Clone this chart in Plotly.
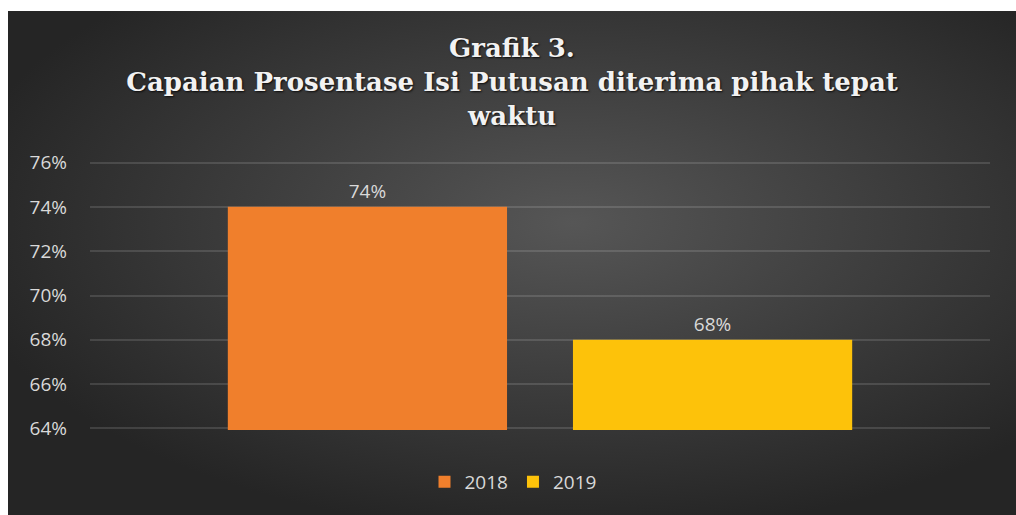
import plotly.graph_objects as go
import base64

# ---- data ----
category = [""]
years = ["2018", "2019"]
values = [0.74, 0.68]
colors = ["#F07F2C", "#FDC20A"]
tick_vals = [0.64, 0.66, 0.68, 0.70, 0.72, 0.74, 0.76]
title_lines = ["Grafik 3.", "Capaian Prosentase Isi Putusan diterima pihak tepat", "waktu"]

W, H = 1016, 515
L, R, T, B = 90, 26, 161, 85  # margins
pw, ph = W - L - R, H - T - B

fig = go.Figure()
for yr, v, c in zip(years, values, colors):
    fig.add_trace(go.Bar(
        x=category, y=[v], name=yr,
        marker=dict(color=c, line=dict(width=0)),
        text=[f"{round(v*100)}%"], textposition="outside",
        textfont=dict(family="Open Sans", size=19, color="#D9D9D9"),
        cliponaxis=True,
    ))

# background gradient (radial, dark), starting 8px from left, 11px from top
svg = '''<svg xmlns="http://www.w3.org/2000/svg" width="1008" height="504" viewBox="0 0 1008 504" preserveAspectRatio="none">
<defs><radialGradient id="g" cx="0.56" cy="0.42" r="0.62" gradientUnits="objectBoundingBox">
<stop offset="0" stop-color="#565656"/><stop offset="1" stop-color="#252525"/></radialGradient></defs>
<rect width="1008" height="504" fill="url(#g)"/></svg>'''
src = "data:image/svg+xml;base64," + base64.b64encode(svg.encode()).decode()
fig.add_layout_image(dict(
    source=src, xref="paper", yref="paper",
    x=(8 - L) / pw, y=(H - B - 11) / ph,
    sizex=(W - 8) / pw, sizey=(H - 11) / ph,
    xanchor="left", yanchor="top", sizing="stretch", layer="below",
))

fig.update_layout(
    width=W, height=H,
    margin=dict(l=L, r=R, t=T, b=B),
    paper_bgcolor="#FFFFFF", plot_bgcolor="rgba(0,0,0,0)",
    barmode="group", bargap=0.233, bargroupgap=0.191,
    title=dict(
        text="<br>".join(title_lines),
        x=512 / W, xref="container", xanchor="center",
        y=1 - 57 / H, yref="container", yanchor="middle",
        font=dict(family="DejaVu Serif", size=26, color="#F2F2F2", weight="bold",
                  shadow="1px 1px 2px rgba(0,0,0,0.8)"),
    ),
    legend=dict(
        orientation="h", x=(513 - L) / pw, xanchor="center", y=(H - B - 482) / ph, yanchor="middle",
        font=dict(family="Open Sans", size=19, color="#D9D9D9"),
        bgcolor="rgba(0,0,0,0)", itemwidth=30,
    ),
    showlegend=True,
)
fig.update_xaxes(showticklabels=False, showgrid=False, zeroline=False, showline=False, ticks="")
fig.update_yaxes(
    range=[0.6393, 0.7607], tickvals=tick_vals, tickformat=".0%",
    showgrid=True, gridcolor="rgba(255,255,255,0.13)", gridwidth=1.5,
    zeroline=False, showline=False, ticks="", ticklabelstandoff=22,
    tickfont=dict(family="Open Sans", size=19, color="#D9D9D9"),
)

fig.write_html(
    "out.html",
    config={"displayModeBar": False},
    post_script="document.body.style.margin='0';document.body.style.overflow='hidden';",
)
